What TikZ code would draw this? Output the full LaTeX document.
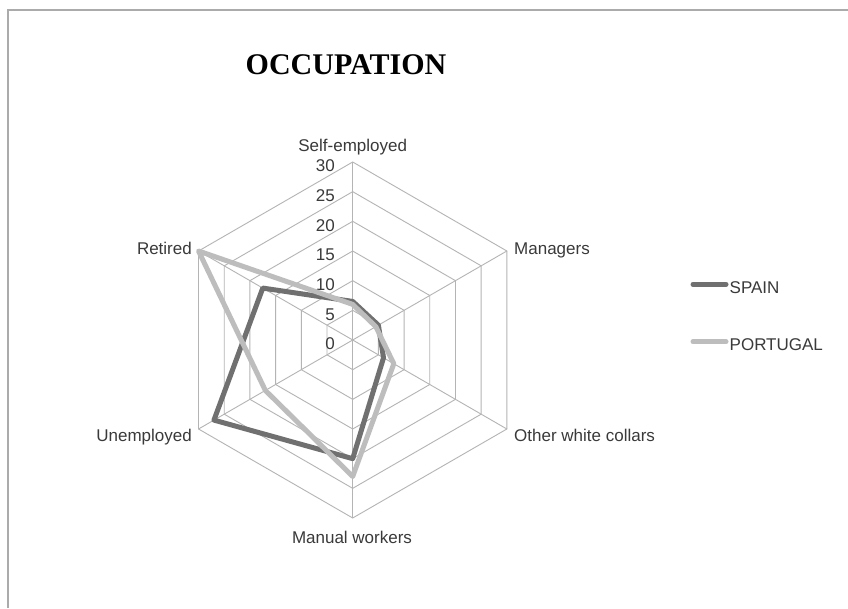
\documentclass[tikz,border=0pt]{standalone}
\usepackage{fontspec}
\setmainfont{Liberation Sans}
\newfontfamily\titlefont{Liberation Serif}
\usetikzlibrary{calc}
\definecolor{gridgray}{HTML}{B4B4B4}
\definecolor{framegray}{HTML}{ABABAB}
\definecolor{spaincol}{HTML}{707070}
\definecolor{portcol}{HTML}{BDBDBD}
\definecolor{labelgray}{HTML}{3A3A3A}
\begin{document}
\begin{tikzpicture}[x=1pt,y=1pt,
  lbl/.style={font=\fontsize{17}{20}\selectfont, text=labelgray, inner sep=0pt},
  gridline/.style={draw=gridgray, line width=0.9pt},
  series/.style={line width=5pt, line join=round},
  legline/.style={line width=5pt, line cap=round}]
\useasboundingbox (0,0) rectangle (848,608);
\fill[white] (0,0) rectangle (848,608);
% outer frame (open to the right and bottom)
\draw[framegray, line width=1.3pt] (8,0) -- (8,598) -- (848,598);

% title
\node[inner sep=0pt, anchor=base, font=\titlefont\bfseries\fontsize{30}{34}\selectfont] (title) at (346,533) {OCCUPATION};

\begin{scope}[shift={(352.7,268)}]
  % one unit of the scale = 178/30 pt
  \def\u{5.9333}
  % rings
  \foreach \k in {1,...,6}{
    \draw[gridline] (90:\k*29.667) -- (30:\k*29.667) -- (-30:\k*29.667)
      -- (-90:\k*29.667) -- (210:\k*29.667) -- (150:\k*29.667) -- cycle;
  }
  % spokes
  \foreach \a in {90,30,-30,-90,210,150}{
    \draw[gridline] (0,0) -- (\a:178);
  }
  % scale labels
  \foreach \v [count=\i from 0] in {0,5,10,15,20,25,30}{
    \node[lbl, anchor=base east] (tick\v) at (-17.7, \i*29.667-9.7) {\v};
  }
  % category labels
  \node[lbl, anchor=base] (selfemp) at (0,188.3) {Self-employed};
  \node[lbl, anchor=base west] (managers) at (161.3,85) {Managers};
  \node[lbl, anchor=base east] (retired) at (-160.7,85) {Retired};
  \node[lbl, anchor=base west] (otherwc) at (161.3,-101.7) {Other white collars};
  \node[lbl, anchor=base east] (unemp) at (-160.7,-101.7) {Unemployed};
  \node[lbl, anchor=base] (manual) at (-0.7,-203.3) {Manual workers};

  % SPAIN values
  \coordinate (sp1) at (90:{6.5*\u});
  \coordinate (sp2) at (30:{5*\u});
  \coordinate (sp3) at (-30:{6*\u});
  \coordinate (sp4) at (-90:{20*\u});
  \coordinate (sp5) at (210:{27*\u});
  \coordinate (sp6) at (150:{17.5*\u});
  % PORTUGAL values
  \coordinate (pt1) at (90:{6*\u});
  \coordinate (pt2) at (30:{4.5*\u});
  \coordinate (pt3) at (-30:{8*\u});
  \coordinate (pt4) at (-90:{23*\u});
  \coordinate (pt5) at (210:{17*\u});
  \coordinate (pt6) at (150:{30*\u});

  \draw[series, spaincol] (sp1) -- (sp2) -- (sp3) -- (sp4) -- (sp5) -- (sp6) -- cycle;
  \draw[series, portcol] (pt1) -- (pt2) -- (pt3) -- (pt4) -- (pt5) -- (pt6) -- cycle;
\end{scope}

% legend
\coordinate (lgA1) at (693,323.7);
\coordinate (lgA2) at (726,323.7);
\coordinate (lgB1) at (693,266.3);
\coordinate (lgB2) at (726,266.3);
\draw[legline, spaincol] (lgA1) -- (lgA2);
\draw[legline, portcol] (lgB1) -- (lgB2);
\node[lbl, anchor=base west] (legspain) at (729.5,314.7) {SPAIN};
\node[lbl, anchor=base west] (legport) at (729.5,257.3) {PORTUGAL};
\end{tikzpicture}
\end{document}
